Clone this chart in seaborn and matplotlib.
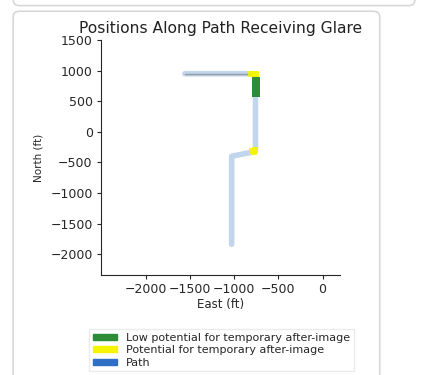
import matplotlib
matplotlib.use("Agg")
import matplotlib.pyplot as plt
from matplotlib.patches import FancyBboxPatch, Patch
import seaborn as sns
import pandas as pd

# Path vertices (ft)
path_east = [-1560, -760, -760, -790, -1030, -1030]
path_north = [950, 950, -310, -330, -400, -1840]

# Glare receiving positions
low_east = [-755, -755, -755, -755, -755, -755]
low_north = [830, 790, 750, 710, 670, 630]
pot_east = [-810, -780, -755, -750, -800, -780, -770]
pot_north = [950, 950, 950, 910, -320, -330, -300]

labels = ['Low potential for temporary after-image',
          'Potential for temporary after-image',
          'Path']
colors = ['#2e8b37', '#f5f500', '#2f6fc4']

sns.set_theme(style="ticks")
plt.rcParams['font.family'] = ['DejaVu Sans']

fig = plt.figure(figsize=(4.39, 3.75), dpi=100)

# card outlines like the screenshot
fig.patches.append(FancyBboxPatch((0.03, -0.05), 0.835, 1.02, boxstyle="round,pad=0,rounding_size=0.015",
                                  transform=fig.transFigure, fc='white', ec='#d8d8d8', lw=1.2, zorder=-5))
fig.patches.append(FancyBboxPatch((0.03, 0.985), 0.915, 0.1, boxstyle="round,pad=0,rounding_size=0.015",
                                  transform=fig.transFigure, fc='white', ec='#d8d8d8', lw=1.2, zorder=-5))

ax = fig.add_axes([0.230, 0.267, 0.545, 0.626])
ax.set_facecolor('none')

df_path = pd.DataFrame({'east': path_east, 'north': path_north})
sns.lineplot(data=df_path, x='east', y='north', sort=False, estimator=None,
             color='#8fb3de', alpha=0.55, linewidth=4, ax=ax)
sns.lineplot(data=df_path.iloc[:2], x='east', y='north', sort=False, estimator=None,
             color='#777777', alpha=0.6, linewidth=1, ax=ax)

# glare points on top of the path
df_pot = pd.DataFrame({'east': pot_east, 'north': pot_north})
sns.scatterplot(data=df_pot, x='east', y='north', color=colors[1], marker='s',
                s=22, linewidth=0, alpha=0.85, zorder=3, ax=ax)
df_low = pd.DataFrame({'east': low_east, 'north': low_north})
sns.scatterplot(data=df_low, x='east', y='north', color=colors[0], marker='s',
                s=36, linewidth=0, zorder=4, ax=ax)

ax.set_xlim(-2510, 200)
ax.set_ylim(-2340, 1500)
ax.set_xticks([-2000, -1500, -1000, -500, 0])
ax.set_yticks([1500, 1000, 500, 0, -500, -1000, -1500, -2000])
ax.tick_params(labelsize=9, length=3, width=0.8, pad=3)
ax.set_xlabel('East (ft)', fontsize=8.5, labelpad=1)
ax.set_ylabel('North (ft)', fontsize=7.5, labelpad=5)
for s in ['left', 'bottom']:
    ax.spines[s].set_linewidth(0.8)
sns.despine(ax=ax)

fig.text(0.503, 0.903, 'Positions Along Path Receiving Glare', ha='center', va='bottom',
         fontsize=11.2, color='#222222')

handles = [Patch(color=c, label=l) for c, l in zip(colors, labels)]
fig.legend(handles=handles, loc='upper center', bbox_to_anchor=(0.504, 0.137),
           fontsize=8, frameon=True, handlelength=2.2, handleheight=0.45,
           labelspacing=0.2, borderpad=0.35, fancybox=False, edgecolor='#e6e6e6')

fig.savefig('out.png', dpi=100)
